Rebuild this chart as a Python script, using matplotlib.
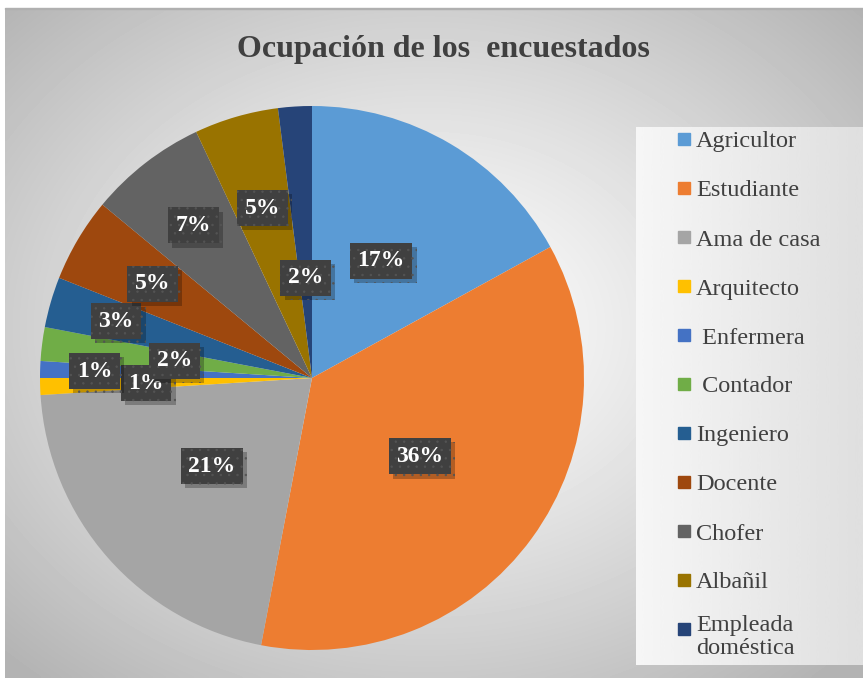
import numpy as np
import matplotlib
matplotlib.use("Agg")
import matplotlib.pyplot as plt
import matplotlib.patheffects as pe
from matplotlib.patches import Rectangle

plt.rcParams['font.family'] = ['Liberation Serif', 'DejaVu Serif']
plt.rcParams['hatch.linewidth'] = 0.5

labels = ["Agricultor", "Estudiante", "Ama de casa", "Arquitecto", " Enfermera",
          " Contador", "Ingeniero", "Docente", "Chofer", "Albañil",
          "Empleada\ndoméstica"]
values = [17, 36, 21, 1, 1, 2, 3, 5, 7, 5, 2]
colors = ["#5B9BD5", "#ED7D31", "#A5A5A5", "#FFC000", "#4472C4", "#70AD47",
          "#255E91", "#9E480E", "#636363", "#997300", "#264478"]
# radial position of each data label (fraction of radius), excel "best fit"
label_r = [0.50, 0.49, 0.49, 0.61, 0.80, 0.51, 0.75, 0.68, 0.71, 0.65, 0.37]

W, H = 863, 678
fig = plt.figure(figsize=(W / 100, H / 100), dpi=100)

# background with radial gradient
bg = fig.add_axes([5 / W, 0, (W - 5) / W, (H - 8) / H])
yy, xx = np.mgrid[0:200, 0:256]
d = np.hypot((xx - 125) / 256, (yy - 95) / 200)
shade = 1 - 0.30 * np.clip(d / 0.7, 0, 1) ** 1.2
bg.imshow(shade, cmap="gray", vmin=0, vmax=1, aspect="auto",
          interpolation="bicubic")
bg.axis("off")
fig.add_artist(Rectangle((5 / W, (H - 9) / H), (W - 5) / W, 1.2 / H,
                         transform=fig.transFigure, color="#b0b0b0"))

# legend panel
lg = fig.add_axes([636 / W, 13 / H, (W - 636) / W, (665 - 127) / H])
grad = np.linspace(0.965, 0.875, 100)[None, :]
lg.imshow(grad, cmap="gray", vmin=0, vmax=1, aspect="auto",
          interpolation="bicubic")
lg.axis("off")

fig.text(443 / W, 1 - 50 / H, "Ocupación de los  encuestados", ha="center",
         va="center", fontsize=23, fontweight="bold", color="#404040")

# pie
R = 272
cx, cy = 312, 378
ax = fig.add_axes([(cx - R) / W, (H - cy - R) / H, 2 * R / W, 2 * R / H])
wedges, _ = ax.pie(values, colors=colors, startangle=90, counterclock=False,
                   radius=1, wedgeprops=dict(linewidth=0))
ax.set_xlim(-1, 1)
ax.set_ylim(-1, 1)
ax.set_aspect("equal")

for w, v, r in zip(wedges, values, label_r):
    ang = np.deg2rad((w.theta1 + w.theta2) / 2)
    t = ax.text(r * np.cos(ang), r * np.sin(ang), f"{v}%", ha="center",
                va="center", fontsize=17, fontweight="bold", color="white",
                bbox=dict(boxstyle="square,pad=0.32", facecolor="#404040",
                          edgecolor="#545454", linewidth=0, hatch=".."))
    t.get_bbox_patch().set_path_effects(
        [pe.SimplePatchShadow(offset=(3, -3), shadow_rgbFace="black", alpha=0.25),
         pe.Normal()])

# legend entries
for i, (lab, c) in enumerate(zip(labels, colors)):
    y = 139 + i * 49
    fig.add_artist(Rectangle((678 / W, 1 - (y + 6) / H), 12 / W, 12 / H,
                             transform=fig.transFigure, color=c))
    if "\n" in lab:
        fig.text(696 / W, 1 - (y - 14) / H, lab, ha="left", va="top",
                 fontsize=17.5, color="#404040", linespacing=1.1)
    else:
        fig.text(696 / W, 1 - (y + 3) / H, lab, ha="left", va="center",
                 fontsize=17.5, color="#404040")

fig.savefig("out.png", dpi=100)
